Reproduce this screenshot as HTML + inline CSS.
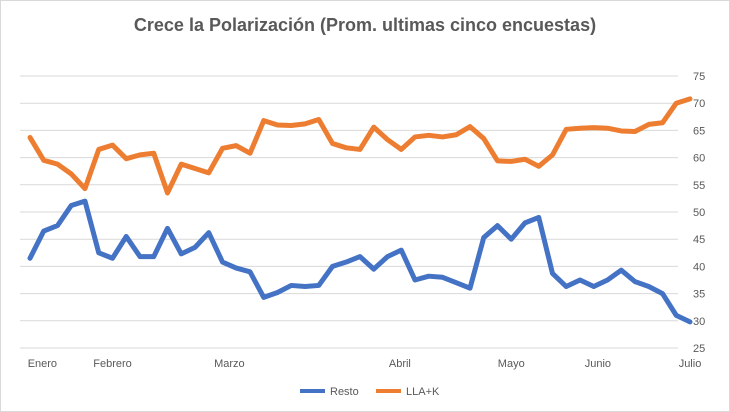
<!DOCTYPE html>
<html><head><meta charset="utf-8"><style>
body{margin:0;background:#fff;font-family:"Liberation Sans",sans-serif;}
svg{display:block}
</style></head><body>
<svg id="chart" width="730" height="412">
<rect x="0.5" y="0.5" width="729" height="411" fill="#fff" stroke="#d9d9d9"/>
<text x="365" y="31" text-anchor="middle" font-size="18" font-weight="bold" fill="#595959">Crece la Polarización (Prom. ultimas cinco encuestas)</text>
<g id="grid"></g><g id="lines"></g><g id="xlabels"></g>
<g>
<line x1="300" y1="391" x2="325" y2="391" stroke="#4472c4" stroke-width="4"/>
<text x="330" y="395" font-size="11" fill="#595959">Resto</text>
<line x1="376" y1="391" x2="401" y2="391" stroke="#ed7d31" stroke-width="4"/>
<text x="406" y="395" font-size="11" fill="#595959">LLA+K</text>
</g>
</svg>
<script>
const resto=[41.5,46.5,47.5,51.2,52,42.5,41.5,45.5,41.8,41.8,47,42.3,43.5,46.2,40.8,39.7,39,34.3,35.2,36.5,36.3,36.5,40,40.8,41.8,39.5,41.8,43,37.5,38.2,38,37,36,45.3,47.5,45,48,49,38.7,36.3,37.5,36.3,37.5,39.3,37.2,36.3,35,31,29.8];
const llak=[63.7,59.5,58.8,57,54.3,61.5,62.3,59.8,60.5,60.8,53.5,58.8,58,57.2,61.7,62.2,60.8,66.8,66,65.9,66.2,67,62.6,61.8,61.5,65.6,63.3,61.5,63.8,64.1,63.8,64.2,65.7,63.5,59.4,59.3,59.7,58.4,60.5,65.2,65.4,65.5,65.4,64.9,64.8,66.1,66.4,70,70.8];
const yTicks=[25,30,35,40,45,50,55,60,65,70,75];
const months=["Enero","Febrero","Marzo","Abril","Mayo","Junio","Julio"];
const monthIdx=[0.9,6,14.5,26.9,35,41.3,48];
const ns="http://www.w3.org/2000/svg";
const X0=30,X1=690,Y0=348,Y1=76;
const xs=i=>X0+(X1-X0)*i/(resto.length-1);
const ys=v=>Y0-(v-25)/(75-25)*(Y0-Y1);
const grid=document.getElementById('grid');
yTicks.forEach(t=>{
 const l=document.createElementNS(ns,'line');
 l.setAttribute('x1',20);l.setAttribute('x2',678);l.setAttribute('y1',ys(t));l.setAttribute('y2',ys(t));
 l.setAttribute('stroke','#d9d9d9');l.setAttribute('stroke-width','1');
 
 
 grid.appendChild(l);
 const tx=document.createElementNS(ns,'text');
 tx.setAttribute('x',693);tx.setAttribute('y',ys(t)+4);tx.setAttribute('font-size','11');tx.setAttribute('fill','#595959');
 tx.textContent=t;
 
 
 grid.appendChild(tx);
});
const lines=document.getElementById('lines');
[[resto,'#4472c4','series-resto'],[llak,'#ed7d31','series-llak']].forEach(([d,c,n])=>{
 const p=document.createElementNS(ns,'polyline');
 p.setAttribute('points',d.map((v,i)=>xs(i)+','+ys(v)).join(' '));
 p.setAttribute('fill','none');p.setAttribute('stroke',c);p.setAttribute('stroke-width','5');
 p.setAttribute('stroke-linejoin','round');p.setAttribute('stroke-linecap','round');
 
 
 lines.appendChild(p);
});
const xl=document.getElementById('xlabels');
months.forEach((m,k)=>{
 const t=document.createElementNS(ns,'text');
 t.setAttribute('x',xs(monthIdx[k]));t.setAttribute('y',367);t.setAttribute('text-anchor','middle');
 t.setAttribute('font-size','11');t.setAttribute('fill','#595959');
 t.textContent=m;
 
 
 xl.appendChild(t);
});
</script>
</body></html>
